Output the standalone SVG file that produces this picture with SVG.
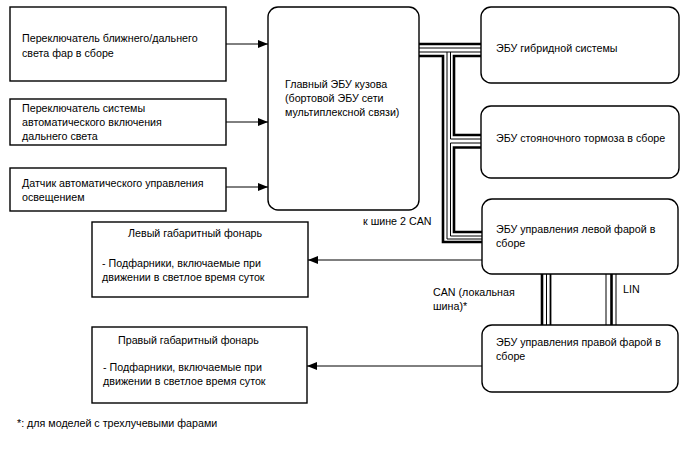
<svg xmlns="http://www.w3.org/2000/svg" width="688" height="463" viewBox="0 0 688 463">
<defs>
<style>
.box{fill:#fff;stroke:#000;stroke-width:1.4}
.t{font-family:"Liberation Sans",Arial,sans-serif;font-size:10.7px;fill:#000}
.ln{fill:none;stroke:#000;stroke-width:1}
.tk{fill:none;stroke:#000;stroke-width:2.6}
.tn{fill:none;stroke:#000;stroke-width:1}
</style>
<marker id="ah" markerWidth="10" markerHeight="8" refX="10" refY="4" orient="auto" markerUnits="userSpaceOnUse">
<path d="M0,0 L10,4 L0,8 Z" fill="#000"/>
</marker>
</defs>
<rect width="688" height="463" fill="#fff"/>

<g id="connectors">
<path class="ln" d="M226,44 H268" marker-end="url(#ah)"/>
<path class="ln" d="M226,122 H268" marker-end="url(#ah)"/>
<path class="ln" d="M226,187 H268" marker-end="url(#ah)"/>
<path class="ln" d="M482,260 H308" marker-end="url(#ah)"/>
<path class="ln" d="M482,366 H307" marker-end="url(#ah)"/>
<g id="can-bus">
<path class="tk" d="M419,44 H481"/>
<path class="tn" d="M419,48 H481"/>
<path class="tn" d="M419,52 H481"/>
<path class="tk" d="M419,56 H443 V242 H482"/>
<path class="tn" d="M447,52 V239 H482"/>
<path class="tn" d="M450.5,52 V139 H481"/>
<path class="tk" d="M481,56 H454 V135 H481"/>
<path class="tn" d="M481,143 H450.5 V236 H482"/>
<path class="tk" d="M481,147.5 H454 V232 H482"/>
</g>
<g id="local-can">
<path class="tk" d="M542,274 V325"/>
<path class="tn" d="M546.5,274 V325"/>
<path class="tk" d="M550.5,274 V325" style="stroke-width:1.8"/>
</g>
<g id="lin">
<path class="tn" d="M606,274 V325"/>
<path class="tk" d="M611.5,274 V325"/>
<path class="tn" d="M616,274 V325"/>
</g>
</g>

<g id="sw-beam">
<rect class="box" x="10" y="7" width="216" height="74"/>
<text class="t" x="22" y="42">Переключатель ближнего/дальнего</text>
<text class="t" x="22" y="56.5">света фар в сборе</text>
</g>
<g id="sw-auto">
<rect class="box" x="10" y="99" width="216" height="46"/>
<text class="t" x="22" y="112">Переключатель системы</text>
<text class="t" x="22" y="126">автоматического включения</text>
<text class="t" x="22" y="140">дальнего света</text>
</g>
<g id="sensor">
<rect class="box" x="10" y="168" width="216" height="43"/>
<text class="t" x="22" y="187">Датчик автоматического управления</text>
<text class="t" x="22" y="201">освещением</text>
</g>
<g id="main-ecu">
<rect class="box" x="268" y="7" width="151" height="203" rx="10"/>
<text class="t" x="285" y="88">Главный ЭБУ кузова</text>
<text class="t" x="285" y="102">(бортовой ЭБУ сети</text>
<text class="t" x="285" y="115.5">мультиплексной связи)</text>
</g>
<g id="hybrid-ecu">
<rect class="box" x="481" y="7" width="198" height="76" rx="10"/>
<text class="t" x="496" y="52">ЭБУ гибридной системы</text>
</g>
<g id="parking-ecu">
<rect class="box" x="481" y="106" width="198" height="72" rx="10"/>
<text class="t" x="496" y="142">ЭБУ стояночного тормоза в сборе</text>
</g>
<g id="left-hl-ecu">
<rect class="box" x="482" y="199" width="196" height="75" rx="10"/>
<text class="t" x="496" y="233">ЭБУ управления левой фарой в</text>
<text class="t" x="496" y="247">сборе</text>
</g>
<g id="right-hl-ecu">
<rect class="box" x="482" y="325" width="196" height="67" rx="10"/>
<text class="t" x="496" y="346">ЭБУ управления правой фарой в</text>
<text class="t" x="496" y="360">сборе</text>
</g>
<g id="left-lamp">
<rect class="box" x="92" y="222" width="216" height="75"/>
<text class="t" x="128" y="237">Левый габаритный фонарь</text>
<text class="t" x="102" y="267">- Подфарники, включаемые при</text>
<text class="t" x="102" y="280.5">движении в светлое время суток</text>
</g>
<g id="right-lamp">
<rect class="box" x="92" y="327" width="215" height="76"/>
<text class="t" x="118" y="344">Правый габаритный фонарь</text>
<text class="t" x="103" y="371">- Подфарники, включаемые при</text>
<text class="t" x="103" y="384.5">движении в светлое время суток</text>
</g>
<g id="labels">
<text class="t" x="363" y="225">к шине 2 CAN</text>
<text class="t" x="433" y="296">CAN (локальная</text>
<text class="t" x="433" y="310">шина)*</text>
<text class="t" x="623" y="293">LIN</text>
<text class="t" x="17" y="427">*: для моделей с трехлучевыми фарами</text>
</g>
</svg>
